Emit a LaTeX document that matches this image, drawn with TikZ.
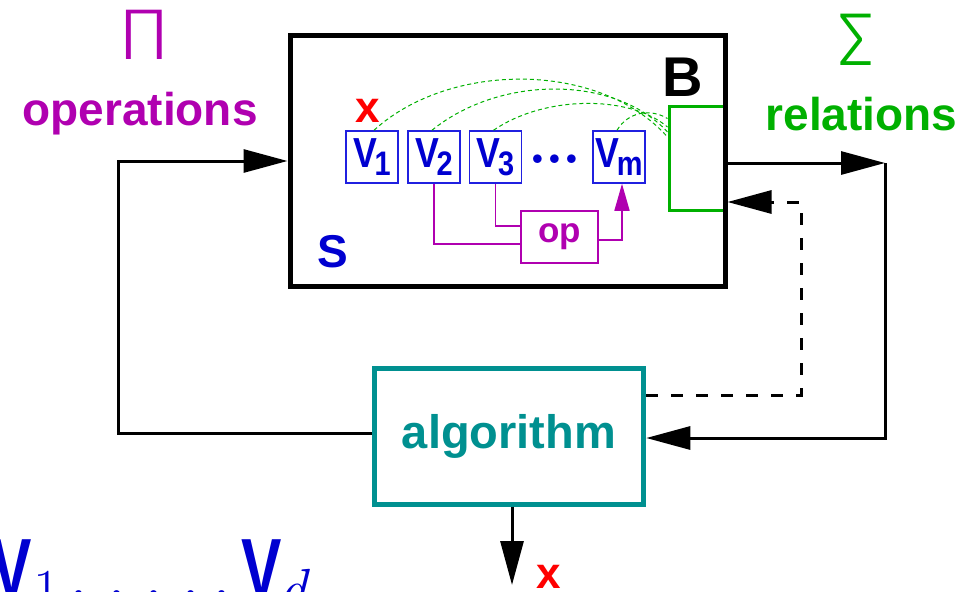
\documentclass[tikz,border=0pt]{standalone}
\usepackage{fontspec}
\setmainfont{Liberation Sans}
\newfontfamily\lmr{Latin Modern Roman}
\newfontfamily\thinfont{Fira Sans}[UprightFont={* Light}]
\usepackage{graphicx}
\usetikzlibrary{arrows.meta}
\definecolor{fblue}{HTML}{0000D0}
\definecolor{fbox}{HTML}{2020E0}
\definecolor{fmag}{HTML}{B000B0}
\definecolor{fgreen}{HTML}{00B000}
\definecolor{fteal}{HTML}{009090}
\definecolor{fred}{HTML}{FF0000}
\newcommand\fs[1]{\fontsize{#1}{#1}\selectfont}
\newcommand\vlabel[1]{\scalebox{0.85}[1]{\fs{42}V\kern-3pt\raisebox{-8pt}{\fs{34}#1}}}
\newcommand\bigV{\scalebox{0.72}[1]{\bfseries\fs{84}V}}
\begin{document}
\begin{tikzpicture}[x=1pt,y=-1pt,
  conn/.style={line width=3pt},
  bigtip/.style={-{Triangle[length=44pt,width=23pt]}},
  dashconn/.style={line width=3pt,dash pattern=on 12pt off 13pt},
  vbox/.style={draw=fbox,line width=1.5pt,minimum width=52pt,minimum height=52pt,inner sep=0pt,text=fblue,font=\bfseries},
  magline/.style={draw=fmag,line width=1.7pt},
  garc/.style={draw=fgreen,line width=1pt,dash pattern=on 4pt off 3pt},
  lbl/.style={inner sep=0pt,anchor=base,font=\bfseries}]
\useasboundingbox (0,0) rectangle (965,591);

% green box B
\node[draw=fgreen,line width=3pt,minimum width=56pt,minimum height=103pt,inner sep=0pt] (gbox) at (697,158.5) {};
% S box
\node[draw,line width=5pt,minimum width=435pt,minimum height=250pt,inner sep=0pt] (sbox) at (507.5,161) {};
% algorithm box
\node[draw=fteal,line width=5pt,minimum width=269.5pt,minimum height=136pt,inner sep=0pt,text=fteal,font=\bfseries\fs{47}] (alg) at (509,436) {algorithm};

% labels
\node[lbl,text=fmag,font=\thinfont\fs{72}] (pi) at (144,60) {\scalebox{1.12}[1]{Π}};
\node[lbl,text=fmag,font=\bfseries\fs{46}] (ops) at (140,125) {operations};
\node[lbl,text=fgreen,font=\thinfont\fs{75}] (sigma) at (856,66) {Σ};
\node[lbl,text=fgreen,font=\bfseries\fs{46}] (rels) at (861.5,130) {relations};
\node[lbl,font=\bfseries\fs{56}] (blab) at (682.5,97) {B};
\node[lbl,text=fblue,font=\bfseries\fs{46}] (slab) at (332.5,267) {S};
\node[lbl,text=fred,font=\bfseries\fs{44}] (xtop) at (368,122) {x};
\node[lbl,text=fred,font=\bfseries\fs{44}] (xbot) at (548.5,588) {x};
\node[inner sep=0pt,anchor=base west,text=fblue] (vlist) at (-9,597)
  {\bigV\kern2pt\raisebox{-12pt}{\lmr\fs{58}1}{\lmr\fs{84}\kern8pt,\kern17pt.\kern16pt.\kern16pt.\kern10pt,\kern9pt}\bigV\kern-3pt\raisebox{-12pt}{\lmr\itshape\fs{58}d}};

% V boxes
\node[vbox] (v1) at (372,157) {\vlabel{1}};
\node[vbox] (v2) at (434,157) {\vlabel{2}};
\node[vbox] (v3) at (495.5,157) {\vlabel{3}};
\node[vbox] (vm) at (619,157) {\vlabel{m}};
\node[lbl,text=fblue,font=\lmr\bfseries\fs{60}] (dots) at (555,163) {.\kern-1.5pt.\kern-1.5pt.};

% op box
\node[draw=fmag,line width=1.7pt,minimum width=77pt,minimum height=52pt,inner sep=0pt,text=fmag,font=\bfseries\fs{35}] (op) at (559.5,237) {op};

% magenta connectors
\draw[magline] (v2.south) |- ([yshift=-7pt]op.west);
\draw[magline] (v3.south) |- ([yshift=11pt]op.west);
\draw[magline,-{Triangle[length=27pt,width=15pt]}] ([yshift=-3pt]op.east) -| ([xshift=3pt]vm.south);

% green dashed arcs
\draw[garc] ([xshift=2pt]v1.north) .. controls (450,61) and (600,61) .. ([yshift=-31.5pt]gbox.north west);
\draw[garc] ([xshift=-2pt]v2.north) .. controls (500,75) and (615,75) .. ([yshift=-26.5pt]gbox.north west);
\draw[garc] ([xshift=-2pt]v3.north) .. controls (545,95) and (630,95) .. ([yshift=-21.5pt]gbox.north west);
\draw[garc] ([xshift=-2pt]vm.north) .. controls (628,112) and (650,108) .. ([yshift=-13pt]gbox.north west);

% main connectors
\coordinate (lc) at (118,433);
\coordinate (rc) at (885,163);
\coordinate (dc1) at (801,395);
\coordinate (dc2) at (801,202);
\coordinate (xout) at (512,585);
\draw[conn,bigtip] ([yshift=3pt]alg.west) -- (lc) |- (sbox.west);
\draw[conn,bigtip] ([yshift=-2pt]sbox.east) -- (rc);
\draw[conn,bigtip] (rc) |- ([yshift=-2pt]alg.east);
\draw[dashconn,bigtip] (alg.east |- dc1) -- (dc1) -- (dc2) -- (sbox.east |- dc2);
\draw[conn,bigtip] ([xshift=3pt]alg.south) -- (xout);
\end{tikzpicture}
\end{document}
